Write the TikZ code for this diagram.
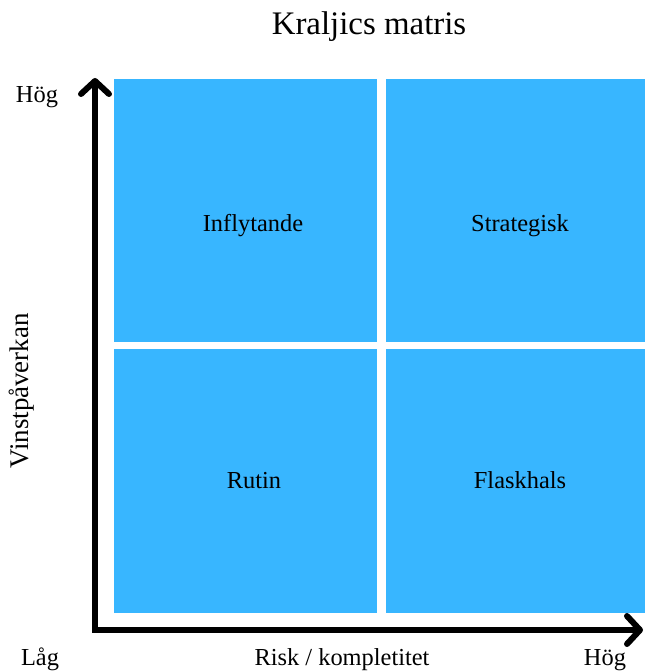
\documentclass[tikz,border=0pt]{standalone}
\usepackage{fontspec}
\setmainfont{Liberation Serif}
\usetikzlibrary{arrows.meta}
\definecolor{cellblue}{RGB}{56,182,255}
\begin{document}
\begin{tikzpicture}[x=1bp,y=-1bp,
  cell/.style={fill=cellblue,draw=none},
  lbl/.style={font=\fontsize{24.5}{28}\selectfont,inner sep=0pt,anchor=base},
  axis/.style={line width=6bp,line join=miter,
    {Straight Barb[length=13bp,width=28bp,line cap=round,line join=round]}-{Straight Barb[length=13bp,width=28bp,line cap=round,line join=round]}}]
\useasboundingbox (0,0) rectangle (645,671);
\fill[cell] (114,79) rectangle (377,342);
\fill[cell] (386,79) rectangle (645,342);
\fill[cell] (114,349) rectangle (377,613);
\fill[cell] (386,349) rectangle (645,613);
\node[lbl] (infl) at (253,231) {Inflytande};
\node[lbl] (strat) at (520,231) {Strategisk};
\node[lbl] (rutin) at (254,488) {Rutin};
\node[lbl] (flask) at (520,488) {Flaskhals};
\node[font=\fontsize{33}{38}\selectfont,inner sep=0pt,anchor=base] (title) at (369,35) {Kraljics matris};
\coordinate (top) at (95,78);
\coordinate (corner) at (95,630);
\coordinate (right) at (643,630);
\draw[axis] (top) -- (corner) -- (right);
\node[lbl] (hogy) at (37,103) {Hög};
\node[lbl] (lag) at (40,665) {Låg};
\node[lbl] (hogx) at (605,665) {Hög};
\node[lbl] (xlab) at (342,665) {Risk / kompletitet};
\node[lbl,font=\fontsize{27}{30}\selectfont,rotate=90] (ylab) at (28,391) {Vinstpåverkan};
\end{tikzpicture}
\end{document}
